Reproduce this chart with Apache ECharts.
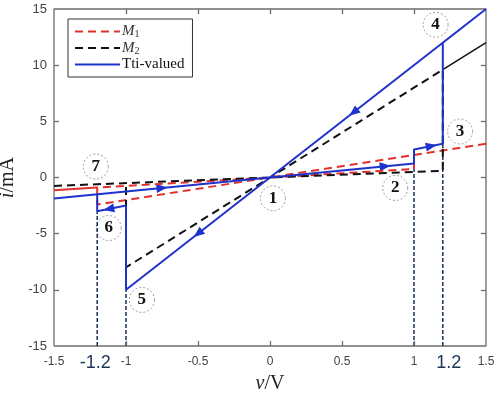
<!DOCTYPE html>
<html>
<head>
<meta charset="utf-8">
<script src="https://cdn.jsdelivr.net/npm/echarts@6/dist/echarts.min.js"></script>
<style>
  html, body { margin: 0; padding: 0; background: #fff; }
  #main { width: 498px; height: 398px; }
</style>
</head>
<body>
<div id="main"></div>
<script>
// axis ranges and inner tick values
const vRange = [-1.5, 1.5]
const iRange = [-15, 15]
const vTicks = [-1, -0.5, 0, 0.5, 1]
const iTicks = [-10, -5, 0, 5, 10]
// M1 (red) loop, dashed part + the retraced piece drawn solid
const m1Path = [[1.5, 3], [-1.2, -2.4], [-1.2, -0.9], [1, 0.75], [1, 2]]
const m1Retrace = [[-1.5, -1.125], [-1.2, -0.9]]
// M2 (black)
const m2Path = [[-1.5, -0.75], [1.2, 0.6], [1.2, 9.6], [-1, -8], [-1, -0.5]]
const m2Retrace = [[1.2, 9.6], [1.5, 12]]
// tri-valued (blue)
const triPath = [[-1.5, -1.875], [1, 1.25], [1, 2.5], [1.2, 3], [1.2, 12], [1.5, 15],
  [-1, -10], [-1, -2.5], [-1.2, -3], [-1.2, -1.5]]
// threshold guides from the bottom
const guides = [
  [[-1.2, -15], [-1.2, -3]],
  [[-1, -15], [-1, -10]],
  [[1, -15], [1, 1.25]],
  [[1.2, -15], [1.2, 3]]
]
// arrows on the blue loop: v, i, direction (deg)
const arrows = [[0.8, 1.0, 5.5], [1.12, 2.8, 11], [0.58, 5.8, 218], [-0.5, -5, 218],
  [-1.12, -2.8, 191], [-0.75, -0.94, 5.5]]
// circled state numbers
const states = [[0.02, -1.85, '1'], [0.87, -0.93, '2'], [1.32, 4.1, '3'], [1.15, 13.6, '4'],
  [-0.89, -10.9, '5'], [-1.12, -4.5, '6'], [-1.21, 0.97, '7']]
// the two threshold values marked under the axis
const thresholdLabels = [-1.2, 1.2]

const serif = 'Liberation Serif'
const sans = 'Liberation Sans'
const axisGray = '#6e6e6e'
const red = '#e3302b'
const blue = '#1f33cc'
const navy = '#1c3358'

let myChart = echarts.init(document.getElementById('main'))

// matlab-like box: frame + inward ticks drawn as a series
const [v0, v1] = vRange
const [i0, i1] = iRange
const frame = [[v0, i0], [v1, i0], [v1, i1], [v0, i1], [v0, i0]]
const tickV = 0.45   // tick length along i (about 5px)
const tickH = 0.035  // tick length along v
const tickSegs = [
  ...vTicks.map(v => [[v, i0], [v, i0 + tickV]]),
  ...vTicks.map(v => [[v, i1], [v, i1 - tickV]]),
  ...iTicks.map(i => [[v0, i], [v0 + tickH, i]]),
  ...iTicks.map(i => [[v1, i], [v1 - tickH, i]])
]

const plainAxis = (extra) => Object.assign({
  type: 'value',
  axisLine: { show: false, onZero: false },
  axisTick: { show: false },
  splitLine: { show: false }
}, extra)

const nameStyle = {
  fontFamily: serif, fontSize: 20, color: '#222',
  rich: { it: { fontFamily: serif, fontSize: 20, fontStyle: 'italic', color: '#222' } }
}

myChart.setOption({
  animation: false,
  grid: {
    left: 54, right: 12, top: 9, bottom: 52, outerBoundsMode: 'none', containLabel: false
  },
  legend: {
    orient: 'vertical',
    left: 68,
    top: 19,
    padding: [5, 8, 5, 6],
    itemGap: 1,
    itemWidth: 45,
    itemHeight: 12,
    borderColor: '#333',
    borderWidth: 1,
    data: ['M1', 'M2', 'Tti-valued'],
    itemStyle: { color: 'rgba(0,0,0,0)', borderColor: 'rgba(0,0,0,0)', borderWidth: 0, opacity: 0 },
    formatter: (name) => name === 'Tti-valued' ? name : '{m|M}{s|' + name.slice(1) + '}',
    textStyle: {
      fontFamily: serif, fontSize: 15, color: '#111', padding: [0, 0, 0, -3],
      rich: {
        m: { fontFamily: serif, fontSize: 15, fontStyle: 'italic', color: '#333' },
        s: { fontFamily: serif, fontSize: 10, color: '#333', padding: [6, 0, 0, 0] }
      }
    }
  },
  xAxis: [
    plainAxis({
      position: 'bottom',
      min: v0, max: v1, interval: 0.5,
      name: '{it|v}/V',
      nameLocation: 'middle',
      nameGap: 28,
      nameTextStyle: nameStyle,
      axisLabel: { margin: 10, fontFamily: sans, fontSize: 12, color: '#444' }
    }),
    plainAxis({
      // label-only axis for the ±1.2 thresholds
      position: 'bottom',
      min: v0, max: v1, interval: 0.3,
      axisLabel: {
        margin: 8,
        fontFamily: sans, fontSize: 18, color: navy,
        formatter: (v) => {
          const hit = thresholdLabels.find(t => Math.abs(t - v) < 1e-6)
          if (hit === undefined) return ''
          return hit > 0 ? '{r|' + hit + '}' : '{l|' + hit + '}'
        },
        rich: {
          l: { fontFamily: sans, fontSize: 18, color: navy, padding: [0, 4, 0, 0] },
          r: { fontFamily: sans, fontSize: 18, color: navy, padding: [0, 0, 0, 12] }
        }
      }
    })
  ],
  yAxis: [
    plainAxis({
      position: 'left',
      min: i0, max: i1, interval: 5,
      name: '{it|i}/mA',
      nameLocation: 'middle',
      nameGap: 22,
      nameRotate: 90,
      nameTextStyle: nameStyle,
      axisLabel: { margin: 7, fontFamily: sans, fontSize: 13, color: '#444' }
    })
  ],
  series: [
    {
      type: 'line', data: frame, symbol: 'none', silent: true, clip: false, z: 1,
      lineStyle: { color: axisGray, width: 1.3 },
      markLine: {
        silent: true, symbol: ['none', 'none'], label: { show: false },
        lineStyle: { color: axisGray, width: 1.3, type: 'solid' },
        data: tickSegs.map(s => [{ coord: s[0] }, { coord: s[1] }])
      }
    },
    ...guides.map(g => ({
      type: 'line', data: g, symbol: 'none', silent: true,
      lineStyle: { color: navy, width: 1.5, type: [4, 2] }
    })),
    {
      name: 'M1', type: 'line', data: m1Path, symbol: 'none', color: red,
      lineStyle: { color: red, width: 2, type: [8, 5] }
    },
    {
      type: 'line', data: m1Retrace, symbol: 'none', color: red,
      lineStyle: { color: red, width: 2 }
    },
    {
      name: 'M2', type: 'line', data: m2Path, symbol: 'none', color: '#111',
      lineStyle: { color: '#111', width: 2, type: [8, 5] }
    },
    {
      type: 'line', data: m2Retrace, symbol: 'none', color: '#111',
      lineStyle: { color: '#111', width: 1.5 }
    },
    {
      name: 'Tti-valued', type: 'line', data: triPath, symbol: 'none', color: blue,
      lineStyle: { color: blue, width: 2 }
    },
    {
      type: 'scatter', silent: true,
      data: arrows.map(a => ({ value: [a[0], a[1]], symbolRotate: a[2] })),
      symbol: 'path://M0,0L12,5L0,10Z',
      symbolSize: [11, 9],
      itemStyle: { color: blue, opacity: 1 }
    },
    {
      type: 'scatter', silent: true,
      data: states,
      symbol: 'circle',
      symbolSize: 25,
      itemStyle: { color: 'rgba(255,255,255,0)', borderColor: '#9a9a9a', borderWidth: 1, borderType: [2, 2], opacity: 1 },
      label: {
        show: true, position: 'inside',
        formatter: (p) => p.value[2],
        fontFamily: serif, fontSize: 17, fontWeight: 'bold', color: '#111'
      }
    }
  ]
})

window.addEventListener('resize', () => { myChart.resize() })
</script>
</body>
</html>
